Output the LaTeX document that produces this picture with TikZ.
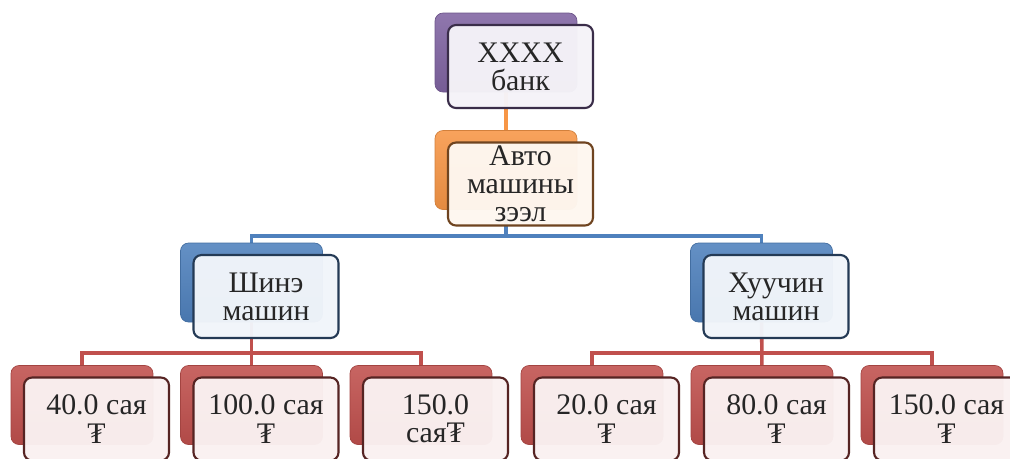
\documentclass[tikz,border=0pt]{standalone}
\usepackage{fontspec}
\setmainfont{Liberation Serif}
\usetikzlibrary{backgrounds}
\definecolor{bankpurple}{HTML}{8064A2}
\definecolor{loanorange}{HTML}{F79646}
\definecolor{carblue}{HTML}{4F81BD}
\definecolor{pricered}{HTML}{C0504D}
\definecolor{textgray}{HTML}{262626}
\tikzset{
  tileback/.style={rounded corners=0.16cm, minimum width=2.84cm, minimum height=1.58cm,
    top color=#1!88!white, bottom color=#1!92!black, draw=#1!85!black, line width=0.4pt},
  tilefront/.style={rounded corners=0.16cm, minimum width=2.9cm, minimum height=1.66cm,
    draw=#1!45!black, line width=1.2pt, fill=#1!8!white,
    fill opacity=0.97, text opacity=1,
    align=center, text=textgray, inner sep=1pt, font=\fontsize{17}{16}\selectfont},
  link/.style={line width=2pt, draw=#1}
}
\begin{document}
\begin{tikzpicture}[x=0.02cm, y=-0.02cm, line join=round]
\useasboundingbox (0,0) rectangle (1010,458);
\clip (0,0) rectangle (1010,458);
% bank and loan
\node[tileback=bankpurple] (bank-b) at (506,52.5) {};
\node[tilefront=bankpurple] (bank) at ([shift={(14.5,14)}]bank-b.center) {XXXX\\банк};
\node[tileback=loanorange] (loan-b) at (506,170) {};
\node[tilefront=loanorange] (loan) at ([shift={(14.5,14)}]loan-b.center) {Авто\\машины\\зээл};
% new and used cars
\node[tileback=carblue] (new-b) at (251.5,282.5) {};
\node[tilefront=carblue] (new) at ([shift={(14.5,14)}]new-b.center) {Шинэ\\машин};
\node[tileback=carblue] (used-b) at (761.5,282.5) {};
\node[tilefront=carblue] (used) at ([shift={(14.5,14)}]used-b.center) {Хуучин\\машин};
% prices
\node[tileback=pricered] (p40-b) at (82,405) {};
\node[tilefront=pricered] (p40) at ([shift={(14.5,14)}]p40-b.center) {40.0 сая\\₮};
\node[tileback=pricered] (p100-b) at (251.5,405) {};
\node[tilefront=pricered] (p100) at ([shift={(14.5,14)}]p100-b.center) {100.0 сая\\₮};
\node[tileback=pricered] (p150a-b) at (421,405) {};
\node[tilefront=pricered] (p150a) at ([shift={(14.5,14)}]p150a-b.center) {150.0\\сая₮};
\node[tileback=pricered] (p20-b) at (592,405) {};
\node[tilefront=pricered] (p20) at ([shift={(14.5,14)}]p20-b.center) {20.0 сая\\₮};
\node[tileback=pricered] (p80-b) at (762,405) {};
\node[tilefront=pricered] (p80) at ([shift={(14.5,14)}]p80-b.center) {80.0 сая\\₮};
\node[tileback=pricered] (p150b-b) at (932,405) {};
\node[tilefront=pricered] (p150b) at ([shift={(14.5,14)}]p150b-b.center) {150.0 сая\\₮};
% connectors
\begin{scope}[on background layer]
  \coordinate (carbus) at (506,236);
  \coordinate (newbus) at (251.5,353);
  \coordinate (usedbus) at (762,353);
  \draw[link=loanorange] (bank-b.center) -- (loan-b.center);
  \draw[link=carblue] (loan-b.center) -- (carbus);
  \draw[link=carblue] (new-b.center) |- (carbus) -| (used-b.center);
  \draw[link=pricered] (new-b.center) -- (p100-b.center);
  \draw[link=pricered] (p40-b.center) |- (newbus) -| (p150a-b.center);
  \draw[link=pricered] (used-b.center) -- (p80-b.center);
  \draw[link=pricered] (p20-b.center) |- (usedbus) -| (p150b-b.center);
\end{scope}
\end{tikzpicture}
\end{document}
